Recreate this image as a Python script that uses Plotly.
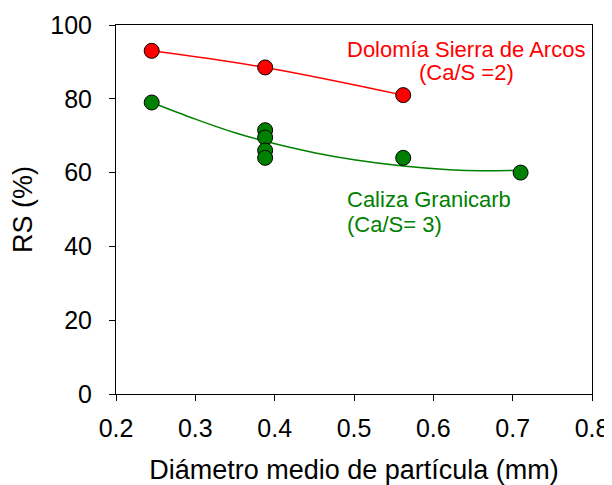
import plotly.graph_objects as go

# Dolomía Sierra de Arcos (Ca/S = 2)
dolomia_d = [0.245, 0.388, 0.562]
dolomia_rs = [93, 88.5, 81]

# Caliza Granicarb (Ca/S = 3)
caliza_d = [0.245, 0.388, 0.388, 0.388, 0.388, 0.562, 0.71]
caliza_rs = [79, 71.5, 69.5, 66, 64, 64, 60]

# trend curves
dolomia_fit_d = [0.245, 0.388, 0.562]
dolomia_fit_rs = [93, 88.5, 81]
caliza_fit_d = [0.245, 0.3, 0.35, 0.388, 0.45, 0.5, 0.562, 0.62, 0.66, 0.71]
caliza_fit_rs = [79, 74.5, 70.8, 68.5, 65.4, 63.5, 61.8, 60.8, 60.5, 60.6]

font = "Liberation Sans, Arial, sans-serif"
red = "rgb(255,0,0)"
green = "rgb(0,128,0)"

fig = go.Figure()
fig.add_trace(go.Scatter(x=dolomia_fit_d, y=dolomia_fit_rs, mode="lines",
                         line=dict(color=red, width=1.5, shape="spline"), hoverinfo="skip"))
fig.add_trace(go.Scatter(x=caliza_fit_d, y=caliza_fit_rs, mode="lines",
                         line=dict(color=green, width=1.5, shape="spline"), hoverinfo="skip"))
fig.add_trace(go.Scatter(x=dolomia_d, y=dolomia_rs, mode="markers", name="Dolomía",
                         marker=dict(color=red, size=15, line=dict(color="black", width=1))))
fig.add_trace(go.Scatter(x=caliza_d, y=caliza_rs, mode="markers", name="Caliza",
                         marker=dict(color=green, size=15, line=dict(color="black", width=1))))

# labels, one annotation per line
labels = [
    (0.6415, 93.4, "Dolomía Sierra de Arcos", red, "center"),
    (0.6415, 87.1, "(Ca/S =2)", red, "center"),
    (0.489, 52.7, "Caliza Granicarb", green, "left"),
    (0.489, 45.9, "(Ca/S= 3)", green, "left"),
]
for x, y, txt, col, anchor in labels:
    fig.add_annotation(x=x, y=y, xref="x", yref="y", text=txt, showarrow=False,
                       xanchor=anchor, yanchor="middle",
                       font=dict(family=font, size=22, color=col))

axis = dict(showline=True, linecolor="black", linewidth=1, mirror=True, ticks="outside",
            ticklen=6, tickcolor="black", showgrid=False, zeroline=False, automargin=False,
            tickfont=dict(family=font, size=25, color="black"))
fig.update_xaxes(axis, range=[0.2, 0.8], dtick=0.1, tickformat=".1f", ticklabelstandoff=6,
                 title=dict(text="Diámetro medio de partícula (mm)", standoff=25,
                            font=dict(family=font, size=27, color="black")))
fig.update_yaxes(axis, range=[0, 100], dtick=20, ticklabelstandoff=12,
                 title=dict(text="RS (%)", standoff=20,
                            font=dict(family=font, size=27, color="black")))
fig.update_layout(width=604, height=477, showlegend=False,
                  margin=dict(l=108, r=20, t=17, b=91),
                  paper_bgcolor="white", plot_bgcolor="white")
fig.write_html("out.html")
